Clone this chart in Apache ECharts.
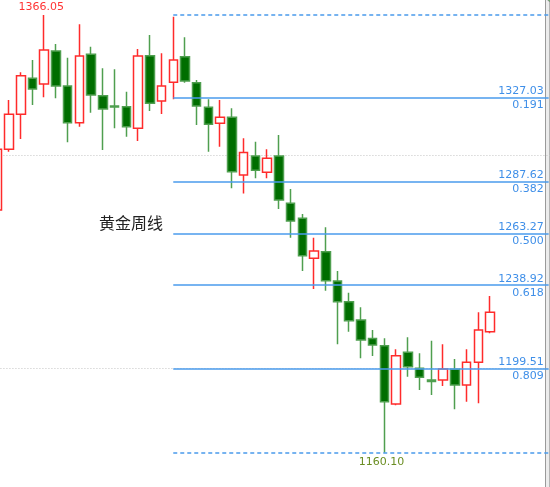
<!DOCTYPE html>
<html>
<head>
<meta charset="utf-8">
<title>黄金周线</title>
<script src="https://cdn.jsdelivr.net/npm/echarts@6/dist/echarts.min.js"></script>
<style>
html, body { margin: 0; padding: 0; background: #fff; }
#kline { width: 550px; height: 487px; }
</style>
</head>
<body>
<div id="kline"></div>
<script>
// weekly bars, XAUUSD
var weeks = ['2017.12.24', '2017.12.31', '2018.01.07', '2018.01.14', '2018.01.21', '2018.01.28', '2018.02.04',
	'2018.02.11', '2018.02.18', '2018.02.25', '2018.03.04', '2018.03.11', '2018.03.18', '2018.03.25',
	'2018.04.01', '2018.04.08', '2018.04.15', '2018.04.22', '2018.04.29', '2018.05.06', '2018.05.13',
	'2018.05.20', '2018.05.27', '2018.06.03', '2018.06.10', '2018.06.17', '2018.06.24', '2018.07.01',
	'2018.07.08', '2018.07.15', '2018.07.22', '2018.07.29', '2018.08.05', '2018.08.12', '2018.08.19',
	'2018.08.26', '2018.09.02', '2018.09.09', '2018.09.16', '2018.09.23', '2018.09.30', '2018.10.07', '2018.10.14'];
// empty weeks on the right (chart shift)
var shiftWeeks = ['2018.10.21', '2018.10.28', '2018.11.04', '2018.11.11', '2018.11.18'];
var open = [1274.30, 1302.86, 1319.33, 1336.27, 1333.58, 1349.11, 1332.64, 1315.37, 1347.56, 1328.08, 1323.23,
	1322.90, 1312.74, 1346.90, 1325.59, 1334.38, 1346.43, 1334.20, 1322.62, 1315.09, 1317.92, 1290.77,
	1299.71, 1292.04, 1299.71, 1277.45, 1270.39, 1251.57, 1254.68, 1240.89, 1231.15, 1222.54, 1213.84,
	1210.45, 1183.02, 1207.34, 1199.81, 1194.31, 1194.31, 1199.34, 1191.96, 1202.64, 1217.04];
var close = [1302.86, 1319.33, 1337.49, 1331.23, 1349.58, 1332.64, 1315.37, 1346.76, 1328.41, 1321.82, 1322.76,
	1313.49, 1346.76, 1324.50, 1332.64, 1344.88, 1335.00, 1323.23, 1314.62, 1317.92, 1292.32, 1301.35,
	1292.98, 1298.62, 1279.00, 1269.12, 1252.79, 1255.01, 1241.03, 1231.15, 1222.21, 1213.13, 1210.78,
	1184.10, 1205.74, 1200.57, 1195.58, 1193.60, 1199.49, 1191.96, 1202.64, 1217.84, 1226.16];
var low = [1272.42, 1301.73, 1307.71, 1323.70, 1327.33, 1326.86, 1306.15, 1313.49, 1320.08, 1302.53, 1312.74,
	1308.79, 1306.76, 1320.88, 1319.47, 1326.38, 1334.20, 1314.29, 1301.73, 1304.08, 1284.51, 1282.06,
	1289.21, 1289.21, 1274.77, 1261.27, 1245.60, 1237.13, 1236.33, 1211.11, 1217.04, 1204.52, 1205.60,
	1160.10, 1182.41, 1195.86, 1189.60, 1187.25, 1191.49, 1180.52, 1184.10, 1183.35, 1216.28];
var high = [1307.23, 1326.06, 1339.09, 1344.88, 1366.05, 1352.40, 1345.96, 1361.67, 1351.13, 1340.97, 1340.50,
	1329.96, 1350.05, 1356.64, 1348.03, 1365.25, 1355.56, 1335.47, 1326.38, 1326.06, 1322.15, 1308.03,
	1306.44, 1302.86, 1309.59, 1284.18, 1272.42, 1261.27, 1266.16, 1245.60, 1235.39, 1228.52, 1217.84,
	1213.93, 1208.75, 1214.40, 1206.87, 1212.80, 1211.11, 1204.19, 1208.75, 1226.16, 1233.83];

// fibonacci retracement 1366.05 -> 1160.10
var fibFrom = '2018.04.08';
var fibTop = 1366.05;
var fibBottom = 1160.10;
var fibLevels = [1327.03, 1287.62, 1263.27, 1238.92, 1199.51];
var fibRatios = ['0.191', '0.382', '0.500', '0.618', '0.809'];

var myChart = echarts.init(document.getElementById('kline'));

var kdata = [];
for (var i = 0; i < weeks.length; i++) {
	kdata.push([open[i], close[i], low[i], high[i]]);
}
var cats = weeks.concat(shiftWeeks);
var fibTo = cats[cats.length - 1];

var bandW = 11.731;             // px per week
var pxPerUnit = 2.12533;        // px per dollar
var fibBlue = '#4a9bec';

var fibLines = [];
[fibTop, fibBottom].forEach(function (v) {
	fibLines.push([{coord: [fibFrom, v], lineStyle: {color: fibBlue, type: [4, 3], width: 1.5}, label: {show: false}},
		{coord: [fibTo, v]}]);
});
fibLevels.forEach(function (v, i) {
	fibLines.push([{coord: [fibFrom, v], name: v.toFixed(2), label: {position: 'insideEndTop'}},
		{coord: [fibTo, v]}]);
	// second copy only carries the ratio text under the line
	fibLines.push([{coord: [fibFrom, v], name: fibRatios[i], label: {position: 'insideEndBottom', distance: [5, 2]},
		lineStyle: {color: 'rgba(255,255,255,0)', width: 0}}, {coord: [fibTo, v]}]);
});

var option = {
	backgroundColor: '#fff',
	animation: false,
	grid: {
		left: -2.7 - bandW / 2,
		width: bandW * cats.length,
		top: 15 - (1400 - fibTop) * pxPerUnit,
		height: 300 * pxPerUnit,
		outerBoundsMode: 'none'
	},
	xAxis: {
		type: 'category',
		data: cats,
		boundaryGap: true,
		show: false
	},
	yAxis: {
		type: 'value',
		min: 1100,
		max: 1400,
		interval: 100,
		axisLine: {show: false},
		axisTick: {show: false},
		axisLabel: {show: false},
		splitLine: {
			lineStyle: {color: '#c4c4c4', type: [1, 2], width: 1}
		}
	},
	series: [{
		type: 'candlestick',
		data: kdata,
		barWidth: 9,
		itemStyle: {
			color: '#ffffff',
			borderColor: '#ff2b2b',
			color0: '#006e00',
			borderColor0: '#4f9f4f',
			borderWidth: 1.5
		},
		markLine: {
			silent: true,
			symbol: ['none', 'none'],
			lineStyle: {color: fibBlue, type: 'solid', width: 1.5},
			label: {
				show: true,
				formatter: '{b}',
				color: '#3f8fe8',
				fontSize: 11,
				fontFamily: 'DejaVu Sans',
				distance: [5, 1]
			},
			data: fibLines
		},
		markPoint: {
			symbol: 'circle',
			symbolSize: 0,
			label: {
				show: true,
				fontSize: 11,
				fontFamily: 'DejaVu Sans',
				distance: 2,
				formatter: function (p) { return p.value.toFixed(2); }
			},
			data: [
				{type: 'max', valueDim: 'highest', label: {position: 'top', color: '#ff3333', offset: [-3, 0]}},
				{type: 'min', valueDim: 'lowest', label: {position: 'bottom', color: '#6b8e23', offset: [-3, 2]}}
			]
		}
	}],
	graphic: [
		{
			type: 'text',
			left: 99,
			top: 215,
			style: {text: '黄金周线', font: '16px "Noto Sans CJK SC"', fill: '#222'}
		},
		{type: 'rect', shape: {x: 545, y: 0, width: 5, height: 487}, style: {fill: '#ececec'}},
		{type: 'line', shape: {x1: 545.5, y1: 0, x2: 545.5, y2: 487}, style: {stroke: '#9a9a9a', lineWidth: 1}},
		{type: 'line', shape: {x1: 549.5, y1: 0, x2: 549.5, y2: 487}, style: {stroke: '#b4b4b4', lineWidth: 1}},
		{type: 'circle', shape: {cx: 557, cy: -9, r: 13}, style: {fill: '#66bb66', stroke: '#8a8a8a'}}
	]
};
myChart.setOption(option);
</script>
</body>
</html>
